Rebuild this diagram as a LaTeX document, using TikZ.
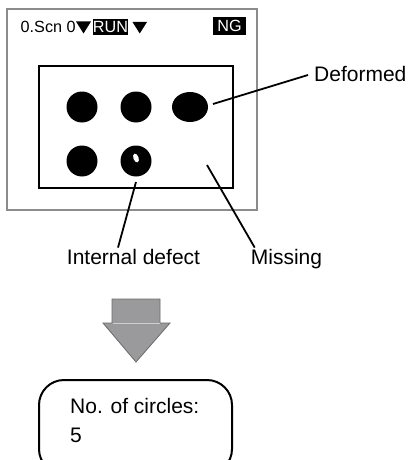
\documentclass[tikz,border=0pt]{standalone}
\usepackage{fontspec}
\setmainfont{Liberation Sans}
\usetikzlibrary{positioning, shapes.geometric, calc}
\definecolor{scrgray}{HTML}{8C8C8C}
\definecolor{arrgray}{HTML}{9A9A9C}
\definecolor{arredge}{HTML}{6A6A6A}

\begin{document}
\begin{tikzpicture}[x=1pt, y=-1pt,
    lbl/.style={font=\fontsize{21}{25}\selectfont, inner sep=1pt},
    hdr/.style={font=\fontsize{16.2}{19}\selectfont, inner sep=1pt},
    inv/.style={hdr, fill=black, text=white, inner sep=0pt},
    blob/.style={circle, fill=black, minimum size=31pt, inner sep=0pt},
    lead/.style={line width=1.8pt}]
    \useasboundingbox (0,0) rectangle (409,460);
    \draw[scrgray, line width=2pt] (7,9) rectangle (257,210);
    \draw[line width=2.2pt] (39,66) rectangle (233,188);
    \node[hdr, anchor=base west] (scn) at (19.5,33) {0.Scn 0};
    \fill (76,21.5) -- (91,21.5) -- (83.5,33.5) -- cycle;
    \node[inv, minimum width=35pt, minimum height=16pt] (run) at (110.5,27) {RUN};
    \fill (132.5,22) -- (147,22) -- (139.75,33.5) -- cycle;
    \node[inv, minimum width=33pt, minimum height=18pt] (ng) at (229.5,26) {NG};
    \node[blob] (c1) at (82,107) {};
    \node[blob] (c2) at (136,107) {};
    \node[ellipse, fill=black, minimum width=36pt, minimum height=30pt, inner sep=0pt] (c3) at (190,107) {};
    \node[blob] (c4) at (82,161) {};
    \node[blob] (c5) at (136,161) {};
    \fill[white, rotate around={20:(136,158)}] (136,158) ellipse (2.6 and 4.6);
    \node[lbl, anchor=west] (def) at (313,74) {Deformed};
    \node[lbl, anchor=base] (intd) at (133.5,264) {Internal defect};
    \node[lbl, anchor=base] (miss) at (286.5,264) {Missing};
    \coordinate (defa) at (213,104);
    \coordinate (inta) at (136,182);
    \coordinate (missa) at (207,165);
    \draw[lead] (defa) -- ($(def.west)+(-5,1)$);
    \draw[lead] (inta) -- ($(intd.north)+(-15.5,0)$);
    \draw[lead] (missa) -- ($(miss.north west)+(5,0)$);
    \draw[fill=arrgray, draw=arredge, line width=0.8pt] (112,299) -- (160,299) -- (160,323)
        -- (170,323) -- (136,362) -- (103,323) -- (112,323) -- cycle;
    \draw[arrgray!50!white, line width=0.6pt] (112.5,323) -- (159.5,323);
    \begin{scope}
        \clip (0,0) rectangle (409,460);
        \draw[line width=2pt, rounded corners=25pt] (39,380) rectangle (232,474);
    \end{scope}
    \node[lbl, anchor=base west] (cnt) at (69,413) {No. of circles:};
    \node[lbl, anchor=base west] (num) at (69,442) {5};
\end{tikzpicture}
\end{document}
